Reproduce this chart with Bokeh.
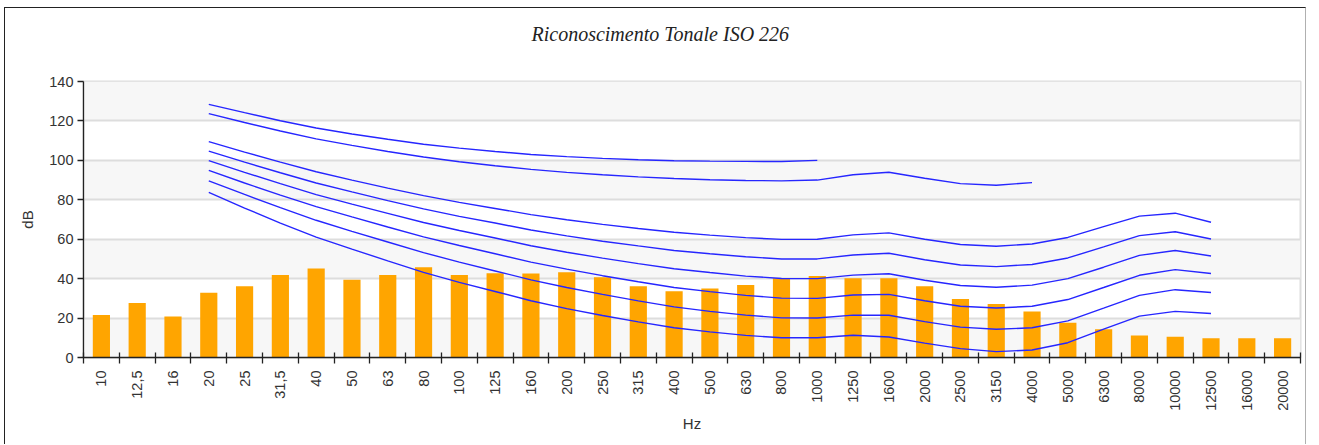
from bokeh.plotting import figure
from bokeh.models import Range1d, FixedTicker, BoxAnnotation, Title
from bokeh.embed import file_html
from bokeh.resources import INLINE

# ---- data ----
freq_labels = ["10", "12,5", "16", "20", "25", "31,5", "40", "50", "63", "80",
               "100", "125", "160", "200", "250", "315", "400", "500", "630", "800",
               "1000", "1250", "1600", "2000", "2500", "3150", "4000", "5000", "6300", "8000",
               "10000", "12500", "16000", "20000"]

levels = [21.5, 27.7, 20.8, 32.8, 36.1, 41.9, 45.1, 39.4, 41.9, 45.8,
          41.9, 42.7, 42.6, 43.2, 40.7, 36.1, 33.6, 35.0, 36.8, 40.2,
          41.4, 40.2, 40.2, 36.1, 29.7, 27.2, 23.3, 17.6, 14.3, 11.1,
          10.5, 9.8, 9.8, 9.8]

# ISO 226 equal-loudness contours, from 20 Hz
phon10 = [83.8, 75.8, 68.2, 61.1, 55.0, 49.0, 43.2, 38.1, 33.5, 28.8, 24.8, 21.3, 18.1, 15.1, 13.0,
          11.2, 10.0, 10.0, 11.3, 10.4, 7.3, 4.5, 3.0, 3.8, 7.5, 14.4, 21.0, 23.4, 22.3]
phon20 = [89.6, 82.7, 76.0, 69.6, 64.0, 58.6, 53.2, 48.4, 43.9, 39.4, 35.5, 32.0, 28.7, 25.7, 23.4,
          21.5, 20.1, 20.0, 21.5, 21.4, 18.2, 15.4, 14.3, 15.1, 18.6, 25.0, 31.5, 34.4, 33.0]
phon30 = [94.9, 88.5, 82.4, 76.5, 71.3, 66.2, 61.2, 56.8, 52.6, 48.4, 44.8, 41.5, 38.4, 35.5, 33.4,
          31.5, 30.1, 30.0, 31.7, 32.0, 28.8, 26.0, 25.1, 26.0, 29.4, 35.5, 41.7, 44.6, 42.6]
phon40 = [99.9, 93.9, 88.2, 82.6, 77.8, 73.1, 68.5, 64.4, 60.6, 56.7, 53.4, 50.4, 47.6, 45.0, 43.1,
          41.3, 40.1, 40.0, 41.8, 42.5, 39.2, 36.5, 35.6, 36.7, 40.0, 45.8, 51.8, 54.3, 51.5]
phon50 = [104.7, 99.1, 93.7, 88.5, 84.0, 79.6, 75.4, 71.6, 68.2, 64.7, 61.7, 59.0, 56.6, 54.3, 52.6,
          51.1, 50.0, 50.0, 52.0, 52.9, 49.6, 46.9, 46.1, 47.2, 50.5, 56.1, 61.8, 63.8, 60.1]
phon60 = [109.5, 104.2, 99.1, 94.2, 90.0, 85.9, 82.1, 78.7, 75.6, 72.5, 69.9, 67.5, 65.4, 63.5, 62.1,
          60.8, 59.9, 60.0, 62.2, 63.2, 60.0, 57.3, 56.4, 57.6, 60.9, 66.4, 71.7, 73.2, 68.6]
phon90 = [123.7, 119.2, 114.9, 110.9, 107.6, 104.5, 101.7, 99.3, 97.3, 95.4, 93.9, 92.7, 91.6, 90.8,
          90.2, 89.8, 89.6, 90.0, 92.7, 94.0, 90.9, 88.2, 87.4, 88.7]
phon100 = [128.4, 124.2, 120.1, 116.4, 113.4, 110.7, 108.2, 106.2, 104.5, 103.0, 101.9, 101.0,
           100.3, 99.8, 99.6, 99.5, 99.4, 100.0]
curves = [phon10, phon20, phon30, phon40, phon50, phon60, phon90, phon100]
curve_start = freq_labels.index("20")

y_ticks = [0, 20, 40, 60, 80, 100, 120, 140]
band_starts = [0, 40, 80, 120]

# ---- figure ----
n = len(freq_labels)
centers = [i + 0.5 for i in range(n)]

p = figure(width=1302, height=437, output_backend="svg", toolbar_location=None,
           x_range=Range1d(0, n), y_range=Range1d(0, 140),
           min_border_left=78, min_border_right=7, min_border_top=73, min_border_bottom=88,
           background_fill_color="white", border_fill_color="white")
p.styles = {"margin-left": "4px", "margin-top": "7px",
            "border-top": "1px solid #222", "border-left": "1px solid #222",
            "border-right": "1px solid #b0b0b0"}

p.title = None
# spacer between frame and title
p.add_layout(Title(text=" ", text_font_size="1px", standoff=22), "above")
p.add_layout(Title(text="Riconoscimento Tonale ISO 226", align="left", offset=448,
                   text_font="Liberation Serif", text_font_style="italic",
                   text_font_size="20px", text_color="#222222", standoff=24), "above")

for b in band_starts:
    p.add_layout(BoxAnnotation(bottom=b, top=b + 20, fill_color="#f7f7f7", fill_alpha=1,
                               line_alpha=0, level="image"))

p.outline_line_color = "#dddddd"
p.outline_line_width = 2
p.xgrid.visible = False
p.ygrid.ticker = FixedTicker(ticks=y_ticks)
p.ygrid.grid_line_color = "#dddddd"
p.ygrid.grid_line_width = 2

p.vbar(x=centers, top=levels, width=0.48, fill_color="#FFA500", line_color=None)

for c in curves:
    xs = centers[curve_start:curve_start + len(c)]
    p.line(xs, c, line_color="#2626ff", line_width=1.4)

# x axis
xa = p.xaxis[0]
xa.ticker = FixedTicker(ticks=centers, minor_ticks=list(range(n + 1)))
xa.major_label_overrides = {c: lab for c, lab in zip(centers, freq_labels)}
xa.major_label_orientation = 1.5707963267948966
xa.major_tick_out = 0
xa.major_tick_in = 0
xa.minor_tick_out = 6
xa.minor_tick_in = 5
xa.minor_tick_line_color = "#222222"
xa.minor_tick_line_width = 1.3
xa.major_label_standoff = 7
xa.major_label_text_font = "Liberation Sans"
xa.major_label_text_font_size = "14.5px"
xa.major_label_text_color = "#333333"
xa.axis_line_color = "#222222"
xa.axis_line_width = 1.3
xa.axis_label = "Hz"
xa.axis_label_text_font = "Liberation Sans"
xa.axis_label_text_font_size = "15px"
xa.axis_label_text_font_style = "normal"
xa.axis_label_text_color = "#333333"
xa.axis_label_standoff = 1

# y axis
ya = p.yaxis[0]
ya.ticker = FixedTicker(ticks=y_ticks)
ya.major_tick_out = 6
ya.major_tick_in = 0
ya.minor_tick_out = 0
ya.minor_tick_in = 0
ya.major_tick_line_color = "#222222"
ya.major_tick_line_width = 1.3
ya.major_label_standoff = 4
ya.major_label_text_font = "Liberation Sans"
ya.major_label_text_font_size = "14.5px"
ya.major_label_text_color = "#333333"
ya.axis_line_color = "#222222"
ya.axis_line_width = 1.3
ya.axis_label = "dB"
ya.axis_label_text_font = "Liberation Sans"
ya.axis_label_text_font_size = "15px"
ya.axis_label_text_font_style = "normal"
ya.axis_label_text_color = "#333333"
ya.axis_label_standoff = 10

open("out.html", "w").write(file_html(p, INLINE))
